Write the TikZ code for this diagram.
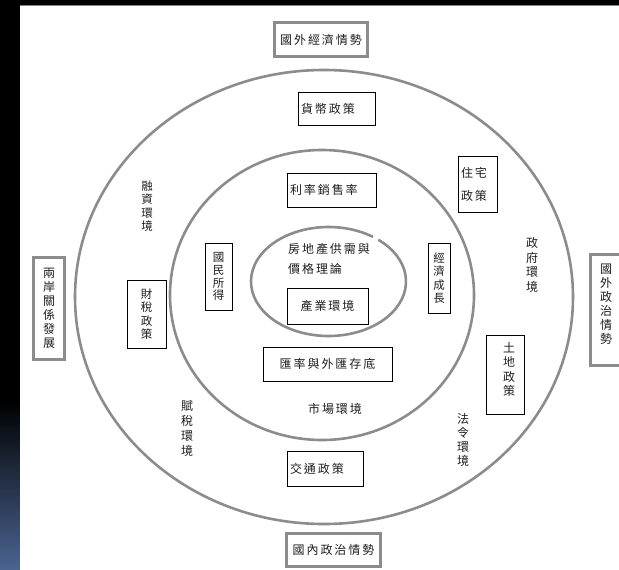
\documentclass[tikz,border=0pt]{standalone}
\usepackage{fontspec}
\setmainfont{Noto Sans CJK TC}
\definecolor{ringgray}{HTML}{8C8C8C}
\definecolor{framegray}{HTML}{8C8C8C}
\definecolor{txt}{HTML}{1E1E1E}
\definecolor{stripblue}{HTML}{4A6491}
\definecolor{topline}{HTML}{878276}
\newcommand{\hf}{\fontsize{12}{14}\selectfont\addfontfeature{LetterSpace=16}}
\newcommand{\vfa}{\fontsize{12}{14}\selectfont}
\begin{document}
\begin{tikzpicture}[x=1pt,y=-1pt,
  ring/.style={draw=ringgray, line width=2.6pt},
  obox/.style={draw=framegray, line width=3pt, fill=white, inner sep=0pt, text=txt},
  ibox/.style={draw=black, line width=0.9pt, inner sep=0pt, text=txt},
  lbl/.style={inner sep=0pt, text=txt, align=center}
]
\useasboundingbox (0,0) rectangle (619,570);
\clip (0,0) rectangle (619,570);
% background
\fill[black] (0,0) rectangle (619,570);
\shade[top color=black, bottom color=stripblue] (0,400) rectangle (20,570);
\fill[white] (20,6) rectangle (619,570);
\draw[topline, line width=1pt] (20,5.5) -- (619,5.5);
% rings
\draw[ring] (324,297) ellipse [x radius=249pt, y radius=227pt];
\draw[ring] (322,295) ellipse [x radius=152pt, y radius=145pt];
\draw[ring] (372.95,236.86) arc [start angle=55, end angle=410, x radius=77.5pt, y radius=54.5pt];
% outer thick boxes
\node[obox, minimum width=93pt, minimum height=34pt, font=\hf] (wj) at (321,39.5) {國外經濟情勢};
\node[obox, minimum width=94pt, minimum height=33pt, font=\hf] (nz) at (333.5,550) {國內政治情勢};
\node[obox, minimum width=31pt, minimum height=102pt, align=center, font=\vfa] (la) at (49,308.5) {兩\\岸\\關\\係\\發\\展};
\node[obox, minimum width=32pt, minimum height=111pt] (wz) at (606.5,310) {};
\node[lbl, font=\vfa] (wzt) at (606,304.5) {國\\外\\政\\治\\情\\勢};
% inner thin boxes
\node[ibox, minimum width=77pt, minimum height=33pt, text width=71pt, align=left, font=\hf] (hb) at (336.5,108.5) {貨幣政策};
\node[ibox, minimum width=39pt, minimum height=56pt, text width=33pt, align=left, font={\fontsize{12}{23}\selectfont\addfontfeature{LetterSpace=16}}] (zz) at (477.5,184) {住宅\\政策};
\node[ibox, minimum width=89pt, minimum height=34pt, text width=83pt, align=left, font=\hf] (ll) at (331.5,190) {利率銷售率};
\node[ibox, minimum width=27pt, minimum height=67pt, align=center, font={\fontsize{11.5}{12.8}\selectfont}] (gm) at (218.5,276.5) {國\\民\\所\\得};
\node[ibox, minimum width=22pt, minimum height=70pt, align=center, font={\fontsize{11.5}{13.3}\selectfont}] (jj) at (439,278) {經\\濟\\成\\長};
\node[ibox, minimum width=39pt, minimum height=68pt, align=center, font={\fontsize{11.5}{13.5}\selectfont}] (cs) at (146.5,314) {財\\稅\\政\\策};
\node[ibox, minimum width=81pt, minimum height=36pt, font=\hf] (cy) at (327.5,306) {產業環境};
\node[ibox, minimum width=129pt, minimum height=34pt, font=\hf] (hl) at (327.5,364) {匯率與外匯存底};
\node[ibox, minimum width=38pt, minimum height=79pt] (td) at (505,374.5) {};
\node[lbl, font={\fontsize{12}{14.5}\selectfont}] (tdt) at (509,369.5) {土\\地\\政\\策};
\node[ibox, minimum width=76pt, minimum height=35pt, text width=70pt, align=left, font=\hf] (jt) at (325,468.5) {交通政策};
% free labels
\node[lbl, font={\fontsize{11.5}{13.5}\selectfont}] (rz) at (147,206) {融\\資\\環\\境};
\node[lbl, font={\fontsize{12}{14.7}\selectfont}] (zf) at (532,265) {政\\府\\環\\境};
\node[lbl, font={\fontsize{12}{15}\selectfont}] (fs) at (187,428.5) {賦\\稅\\環\\境};
\node[lbl, font={\fontsize{12}{14}\selectfont}] (fl) at (463,440) {法\\令\\環\\境};
\node[lbl, font=\hf] (sc) at (335,409) {市場環境};
\node[lbl, anchor=west, align=left, font={\fontsize{12}{20}\selectfont\addfontfeature{LetterSpace=16}}] (fd) at (288,259) {房地產供需與\\價格理論};
\end{tikzpicture}
\end{document}
